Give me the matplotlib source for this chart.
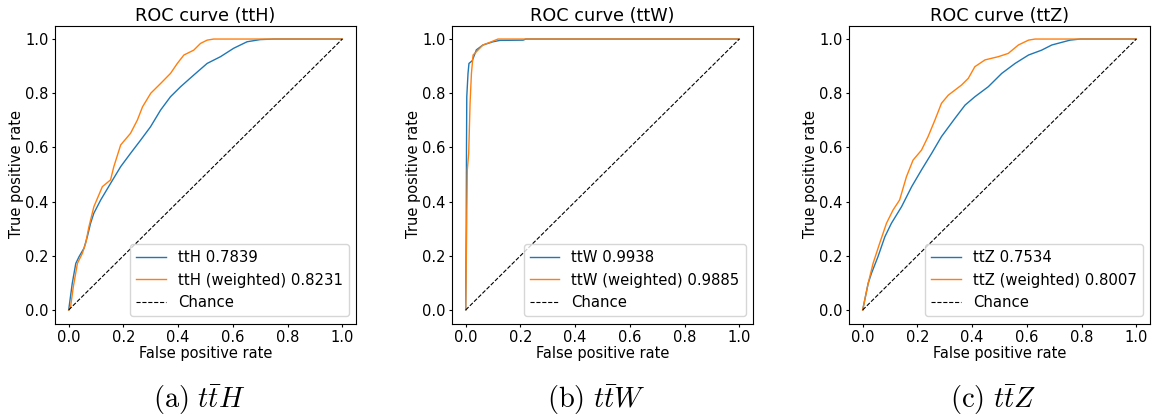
import matplotlib
matplotlib.use("Agg")
import matplotlib.pyplot as plt

plt.rcParams['mathtext.fontset'] = 'cm'

titles = ["ROC curve (ttH)", "ROC curve (ttW)", "ROC curve (ttZ)"]
captions = [r"$\mathrm{(a)}\ t\bar{t}H$", r"$\mathrm{(b)}\ t\bar{t}W$", r"$\mathrm{(c)}\ t\bar{t}Z$"]
labels_plain = ["ttH 0.7839", "ttW 0.9938", "ttZ 0.7534"]
labels_weighted = ["ttH (weighted) 0.8231", "ttW (weighted) 0.9885", "ttZ (weighted) 0.8007"]

# ttH
tth_fpr = [0, 0.013, 0.026, 0.038, 0.056, 0.068, 0.080, 0.092, 0.117, 0.153, 0.190, 0.226, 0.263,
           0.299, 0.336, 0.372, 0.409, 0.457, 0.506, 0.555, 0.603, 0.652, 0.70, 0.75, 1.0]
tth_tpr = [0, 0.098, 0.172, 0.197, 0.228, 0.270, 0.320, 0.357, 0.406, 0.467, 0.529, 0.578, 0.627,
           0.676, 0.738, 0.787, 0.824, 0.867, 0.910, 0.935, 0.966, 0.990, 0.998, 1.0, 1.0]
tthw_fpr = [0, 0.007, 0.017, 0.032, 0.050, 0.062, 0.074, 0.092, 0.123, 0.153, 0.165, 0.190, 0.226,
            0.251, 0.270, 0.300, 0.336, 0.372, 0.397, 0.421, 0.457, 0.482, 0.506, 0.530, 1.0]
tthw_tpr = [0, 0.012, 0.086, 0.172, 0.209, 0.246, 0.307, 0.381, 0.455, 0.480, 0.529, 0.609, 0.652,
            0.701, 0.750, 0.800, 0.836, 0.873, 0.910, 0.941, 0.959, 0.984, 0.996, 1.0, 1.0]
# ttW
ttw_fpr = [0, 0.002, 0.003, 0.004, 0.0085, 0.012, 0.024, 0.039, 0.063, 0.10, 0.125, 0.21, 0.22, 1.0]
ttw_tpr = [0, 0.30, 0.60, 0.787, 0.873, 0.91, 0.92, 0.96, 0.978, 0.99, 0.995, 0.996, 1.0, 1.0]
ttww_fpr = [0, 0.002, 0.006, 0.011, 0.016, 0.021, 0.027, 0.039, 0.063, 0.094, 0.118, 1.0]
ttww_tpr = [0, 0.172, 0.517, 0.578, 0.763, 0.873, 0.941, 0.953, 0.978, 0.990, 1.0, 1.0]
# ttZ
ttz_fpr = [0, 0.020, 0.032, 0.056, 0.081, 0.105, 0.142, 0.179, 0.215, 0.252, 0.288, 0.337, 0.374,
           0.410, 0.459, 0.508, 0.557, 0.606, 0.654, 0.691, 0.758, 0.795, 1.0]
ttz_tpr = [0, 0.098, 0.135, 0.197, 0.270, 0.320, 0.381, 0.455, 0.517, 0.578, 0.640, 0.707, 0.756,
           0.787, 0.824, 0.873, 0.910, 0.941, 0.959, 0.978, 0.996, 1.0, 1.0]
ttzw_fpr = [0, 0.020, 0.038, 0.062, 0.087, 0.111, 0.135, 0.160, 0.184, 0.215, 0.239, 0.264, 0.288,
            0.313, 0.361, 0.386, 0.410, 0.447, 0.496, 0.532, 0.569, 0.606, 0.630, 1.0]
ttzw_tpr = [0, 0.098, 0.172, 0.246, 0.320, 0.369, 0.406, 0.492, 0.553, 0.590, 0.640, 0.701, 0.763,
            0.793, 0.830, 0.855, 0.898, 0.923, 0.935, 0.947, 0.978, 0.996, 1.0, 1.0]

plain = [(tth_fpr, tth_tpr), (ttw_fpr, ttw_tpr), (ttz_fpr, ttz_tpr)]
weighted = [(tthw_fpr, tthw_tpr), (ttww_fpr, ttww_tpr), (ttzw_fpr, ttzw_tpr)]

fig = plt.figure(figsize=(11.6, 4.17), dpi=100)
lefts_px = [55, 452, 849]
for i in range(3):
    ax = fig.add_axes([lefts_px[i] / 1160, 93.5 / 417, 301 / 1160, 298 / 417])
    ax.plot(plain[i][0], plain[i][1], color='#1f77b4', lw=1.0, label=labels_plain[i])
    ax.plot(weighted[i][0], weighted[i][1], color='#ff7f0e', lw=1.0, label=labels_weighted[i])
    ax.plot([0, 1], [0, 1], 'k--', lw=0.8, label='Chance')
    ax.set_xticks([0, 0.2, 0.4, 0.6, 0.8, 1.0])
    ax.set_yticks([0, 0.2, 0.4, 0.6, 0.8, 1.0])
    ax.tick_params(labelsize=10.5, length=2.5, pad=2)
    ax.set_xlabel("False positive rate", fontsize=10.5, labelpad=1)
    ax.set_ylabel("True positive rate", fontsize=10.5, labelpad=1)
    ax.set_title(titles[i], fontsize=12.7, pad=3)
    ax.legend(loc='lower right', fontsize=10.7)
    fig.text((lefts_px[i] + 144) / 1160, 17 / 417, captions[i], fontsize=20.5,
             ha='center', va='center')

fig.savefig("out.png", dpi=100)
